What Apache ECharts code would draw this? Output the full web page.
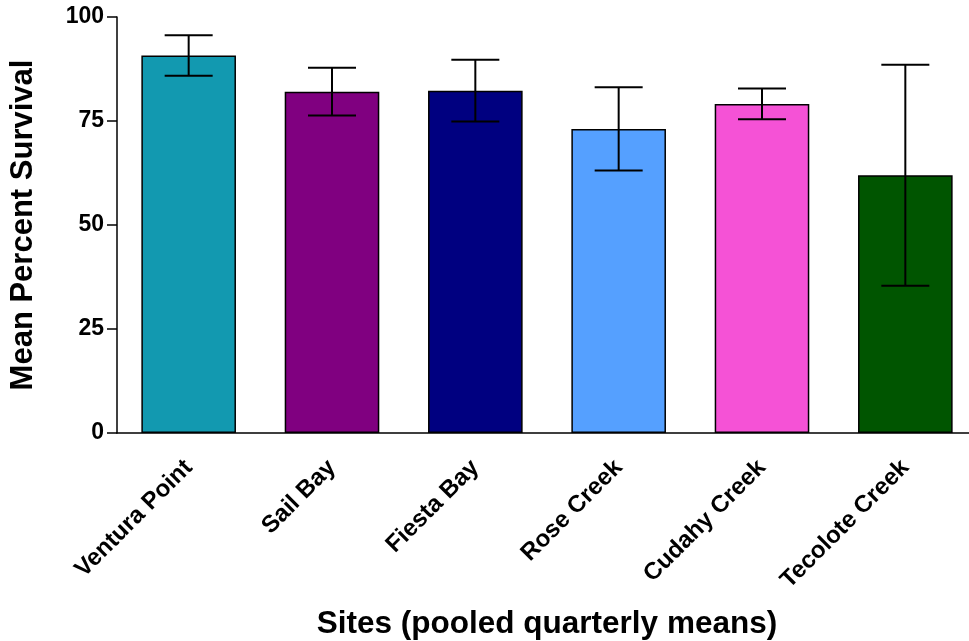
<!DOCTYPE html>
<html>
<head>
<meta charset="utf-8">
<script src="https://cdn.jsdelivr.net/npm/echarts@6/dist/echarts.min.js"></script>
<style>
  html, body { margin: 0; padding: 0; background: #fff; }
  #chart { width: 969px; height: 641px; }
</style>
</head>
<body>
<div id="chart"></div>
<script>
// Sites and pooled quarterly mean survival (%), with error half-widths
const sites = ['Ventura Point', 'Sail Bay', 'Fiesta Bay', 'Rose Creek', 'Cudahy Creek', 'Tecolote Creek'];
const meanSurvival = [90.75, 82.05, 82.3, 73.1, 79.1, 61.95];
const errorSurvival = [4.85, 5.75, 7.4, 10.0, 3.7, 26.55];
const siteColors = ['#1299B0', '#800080', '#000080', '#55A0FF', '#F552D6', '#005500'];
const yTicks = [0, 25, 50, 75, 100];

const FONT = 'Liberation Sans, Arial, sans-serif';

const chart = echarts.init(document.getElementById('chart'), null, { renderer: 'canvas' });

const errorData = meanSurvival.map((m, i) => [i, m - errorSurvival[i], m + errorSurvival[i]]);

chart.setOption({
  animation: false,
  backgroundColor: '#ffffff',
  grid: {
    left: 117, right: -8, top: 17, bottom: 208,
    containLabel: false, outerBoundsMode: 'none'
  },
  xAxis: {
    type: 'category',
    data: sites,
    name: 'Sites (pooled quarterly means)',
    nameLocation: 'middle',
    nameGap: 175,
    nameTextStyle: { fontFamily: FONT, fontWeight: 'bold', fontSize: 31.5, color: '#000' },
    axisLine: { lineStyle: { color: '#000', width: 1.5 } },
    axisTick: { alignWithLabel: true, length: 10, lineStyle: { color: '#000', width: 1.5 } },
    axisLabel: {
      rotate: 45, margin: 31, interval: 0,
      fontFamily: FONT, fontWeight: 'bold', fontSize: 24, color: '#000'
    }
  },
  yAxis: {
    type: 'value',
    min: 0, max: 100, interval: 25,
    name: 'Mean Percent Survival',
    nameLocation: 'middle',
    nameGap: 78,
    nameTextStyle: { fontFamily: FONT, fontWeight: 'bold', fontSize: 31, color: '#000' },
    axisLine: { show: true, lineStyle: { color: '#000', width: 1.5 } },
    axisTick: { show: true, length: 10, lineStyle: { color: '#000', width: 1.5 } },
    splitLine: { show: false },
    axisLabel: {
      margin: 13,
      fontFamily: FONT, fontWeight: 'bold', fontSize: 23, color: '#000',
      formatter: v => (yTicks.includes(v) ? String(v) : '')
    }
  },
  series: [
    {
      type: 'bar',
      barCategoryGap: '34%',
      data: meanSurvival.map((v, i) => ({
        value: v,
        itemStyle: { color: siteColors[i], borderColor: '#000', borderWidth: 1.5 }
      })),
      z: 2
    },
    {
      type: 'custom',
      data: errorData,
      z: 3,
      renderItem: function (params, api) {
        const idx = api.value(0);
        const lo = api.coord([idx, api.value(1)]);
        const hi = api.coord([idx, api.value(2)]);
        const half = 24;
        const style = { stroke: '#000', lineWidth: 2 };
        return {
          type: 'group',
          children: [
            { type: 'line', shape: { x1: hi[0], y1: hi[1], x2: lo[0], y2: lo[1] }, style },
            { type: 'line', shape: { x1: hi[0] - half, y1: hi[1], x2: hi[0] + half, y2: hi[1] }, style },
            { type: 'line', shape: { x1: lo[0] - half, y1: lo[1], x2: lo[0] + half, y2: lo[1] }, style }
          ]
        };
      }
    }
  ]
});
</script>
</body>
</html>
